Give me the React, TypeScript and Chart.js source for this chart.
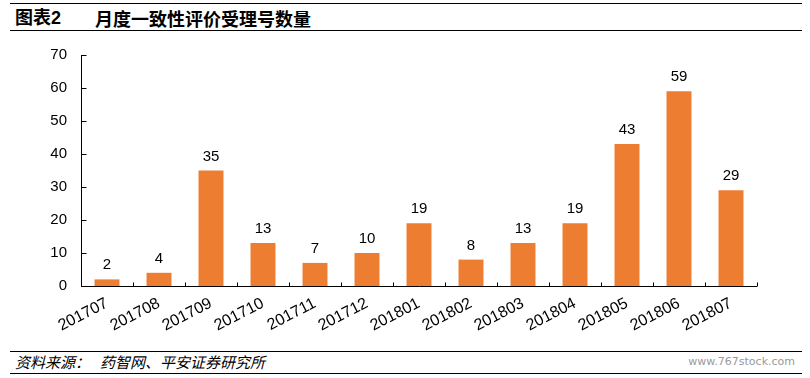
import React, { useEffect, useRef } from "react";
import { Chart, registerables } from "chart.js";

Chart.register(...registerables);

const categories = [
  "201707", "201708", "201709", "201710", "201711", "201712", "201801",
  "201802", "201803", "201804", "201805", "201806", "201807",
];
const counts = [2, 4, 35, 13, 7, 10, 19, 8, 13, 19, 43, 59, 29];
const yMin = 0;
const yMax = 70;
const yStep = 10;

const titleLabel = "图表2";
const titleText = "月度一致性评价受理号数量";
const sourceLabel = "资料来源：";
const sourceText = "药智网、平安证券研究所";
const watermark = "www.767stock.com";

const BAR_COLOR = "#ED7D31";
const FONT = "'Liberation Sans', Arial, sans-serif";

const axisPlugin = {
  id: "axisTicks",
  beforeDatasetsDraw(chart: any) {
    const { ctx, chartArea, scales } = chart;
    const x = scales.x;
    const y = scales.y;
    ctx.save();
    ctx.strokeStyle = "#000";
    ctx.lineWidth = 1;
    ctx.beginPath();
    const ax = Math.round(chartArea.left) + 0.5;
    const ay = Math.round(chartArea.bottom) + 0.5;
    ctx.moveTo(ax, chartArea.top);
    ctx.lineTo(ax, ay);
    ctx.moveTo(ax, ay);
    ctx.lineTo(chartArea.right, ay);
    y.ticks.forEach((t: any) => {
      const py = Math.round(y.getPixelForValue(t.value)) + 0.5;
      ctx.moveTo(ax, py);
      ctx.lineTo(ax + 5, py);
    });
    for (let i = 0; i <= categories.length; i++) {
      const px = Math.round(x.getPixelForValue(i - 0.5)) + 0.5;
      ctx.moveTo(px, ay);
      ctx.lineTo(px, ay - 4);
    }
    ctx.stroke();
    ctx.restore();
  },
  afterDatasetsDraw(chart: any) {
    const { ctx } = chart;
    const meta = chart.getDatasetMeta(0);
    ctx.save();
    ctx.fillStyle = "#000";
    ctx.font = `15px ${FONT}`;
    ctx.textAlign = "center";
    ctx.textBaseline = "alphabetic";
    meta.data.forEach((el: any, i: number) => {
      ctx.fillText(String(counts[i]), el.x, el.y - 10);
    });
    ctx.restore();
  },
};

export default function App() {
  const ref = useRef<HTMLCanvasElement>(null);
  useEffect(() => {
    const chart = new Chart(ref.current as HTMLCanvasElement, {
      type: "bar",
      data: {
        labels: categories,
        datasets: [
          {
            data: counts,
            backgroundColor: BAR_COLOR,
            barPercentage: 0.48,
            categoryPercentage: 1,
          },
        ],
      },
      options: {
        animation: false,
        responsive: false,
        maintainAspectRatio: false,
        layout: { padding: { top: 55, right: 53, left: 0, bottom: 0 } },
        plugins: { legend: { display: false }, tooltip: { enabled: false } },
        scales: {
          x: {
            grid: { display: false, drawTicks: false },
            border: { display: false },
            ticks: {
              font: { family: FONT, size: 16 },
              color: "#000",
              minRotation: 27,
              maxRotation: 27,
              padding: 8,
              autoSkip: false,
            },
            afterFit: (s: any) => {
              s.height = 54;
            },
          },
          y: {
            min: yMin,
            max: yMax,
            ticks: {
              stepSize: yStep,
              font: { family: FONT, size: 15 },
              color: "#000",
              padding: 14,
            },
            grid: { display: false, drawTicks: false },
            border: { display: false },
            afterFit: (s: any) => {
              s.width = 81;
            },
          },
        },
      } as any,
      plugins: [axisPlugin],
    });
    return () => chart.destroy();
  }, []);

  const line = (top: number) => (
    <div
      style={{
        position: "absolute",
        top,
        left: 10,
        width: 792,
        height: 1,
        background: "#000",
      }}
    />
  );

  return (
    <div
      style={{
        position: "fixed",
        top: 0,
        left: 0,
        width: 810,
        height: 378,
        background: "#fff",
        overflow: "hidden",
      }}
    >
      {line(3)}
      <div
        style={{
          position: "absolute",
          top: 7,
          left: 15,
          height: 22,
          lineHeight: "22px",
          fontSize: 18,
          fontWeight: "bold",
          fontFamily: "'Liberation Sans', 'Noto Sans CJK SC', sans-serif",
          color: "#000",
          whiteSpace: "nowrap",
        }}
      >
        {titleLabel}
      </div>
      <div
        style={{
          position: "absolute",
          top: 7,
          left: 95,
          height: 22,
          lineHeight: "22px",
          fontSize: 18,
          fontWeight: "bold",
          fontFamily: "'Noto Sans CJK SC', sans-serif",
          color: "#000",
          whiteSpace: "nowrap",
        }}
      >
        {titleText}
      </div>
      {line(30)}
      <canvas
        ref={ref}
        width={810}
        height={340}
        style={{ position: "absolute", top: 0, left: 0, width: 810, height: 340 }}
      />
      {line(351)}
      <div
        style={{
          position: "absolute",
          top: 353,
          left: 15,
          height: 18,
          lineHeight: "18px",
          fontSize: 15,
          fontStyle: "italic",
          fontFamily: "'Noto Sans CJK SC', sans-serif",
          color: "#000",
          whiteSpace: "nowrap",
        }}
      >
        {sourceLabel}
        <span style={{ marginLeft: 10 }}>{sourceText}</span>
      </div>
      <div
        style={{
          position: "absolute",
          top: 354,
          right: 15,
          height: 16,
          lineHeight: "16px",
          fontSize: 11,
          fontFamily: "'DejaVu Sans', sans-serif",
          color: "#999",
          whiteSpace: "nowrap",
        }}
      >
        {watermark}
      </div>
      {line(373)}
    </div>
  );
}
